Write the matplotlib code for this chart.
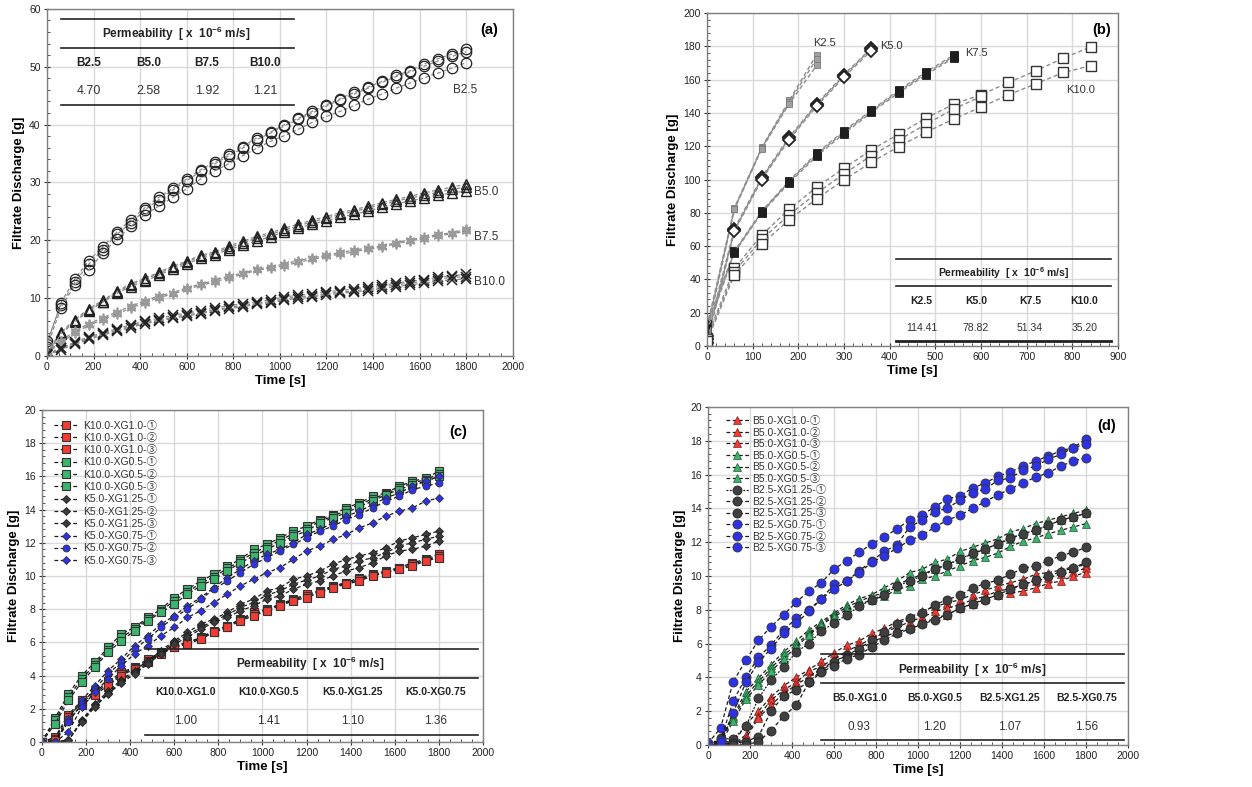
import numpy as np
import matplotlib.pyplot as plt
from matplotlib.ticker import MultipleLocator

plt.rcParams['font.family'] = ['Liberation Sans', 'Noto Sans CJK JP']
plt.rcParams['mathtext.fontset'] = 'custom'
plt.rcParams['mathtext.rm'] = 'Liberation Sans'
plt.rcParams['mathtext.bf'] = 'Liberation Sans:bold'

# ---------------- data ----------------
# sampling times (s)
time_long = [0, 60, 120, 180, 240, 300, 360, 420, 480, 540, 600, 660, 720, 780, 840,
             900, 960, 1020, 1080, 1140, 1200, 1260, 1320, 1380, 1440, 1500, 1560,
             1620, 1680, 1740, 1800]
time_short = [0, 60, 120, 180, 240, 300, 360, 420, 480, 540, 600, 660, 720, 780, 840]

# (a) binder series
b25 = [
    [2.0, 9.2, 13.3, 16.5, 18.9, 21.4, 23.5, 25.6, 27.4, 29.0, 30.6, 32.2, 33.5, 34.9, 36.2, 37.7,
     38.7, 40.0, 41.1, 42.3, 43.4, 44.5, 45.6, 46.5, 47.5, 48.5, 49.3, 50.5, 51.4, 52.2, 53.0],
    [2.5, 8.8, 12.8, 15.9, 18.4, 21.0, 23.0, 25.2, 27.0, 28.7, 30.3, 31.9, 33.2, 34.6, 35.9, 37.4,
     38.5, 39.8, 40.9, 42.0, 43.2, 44.3, 45.3, 46.3, 47.3, 48.3, 49.1, 50.1, 51.0, 51.8, 52.6],
    [1.5, 8.3, 12.3, 14.9, 17.8, 20.2, 22.4, 24.4, 25.9, 27.4, 28.9, 30.6, 32.0, 33.2, 34.6, 35.9,
     37.1, 38.1, 39.2, 40.4, 41.4, 42.3, 43.3, 44.4, 45.3, 46.3, 47.2, 48.1, 48.9, 49.8, 50.7],
]
b50 = [
    [0.8, 4.1, 6.3, 8.2, 9.6, 11.2, 12.5, 13.4, 14.5, 15.5, 16.4, 17.4, 18.0, 19.0, 19.8, 20.7,
     21.3, 22.1, 22.8, 23.5, 24.1, 24.8, 25.3, 25.9, 26.5, 27.1, 27.6, 28.2, 28.7, 29.2, 29.7],
    [0.5, 3.9, 6.1, 8.0, 9.4, 11.0, 12.3, 13.2, 14.3, 15.3, 16.2, 17.2, 17.8, 18.7, 19.5, 20.4,
     21.0, 21.8, 22.5, 23.2, 23.8, 24.5, 25.0, 25.6, 26.2, 26.8, 27.3, 27.8, 28.3, 28.8, 29.2],
    [0.3, 3.8, 5.9, 7.8, 9.3, 10.8, 12.0, 12.9, 14.0, 15.0, 15.9, 16.9, 17.5, 18.4, 19.1, 19.9,
     20.6, 21.5, 22.1, 22.8, 23.4, 24.0, 24.5, 25.1, 25.7, 26.3, 26.8, 27.3, 27.8, 28.2, 28.5],
]
b75 = [
    [0.6, 2.6, 4.3, 5.6, 6.6, 7.6, 8.6, 9.5, 10.4, 10.9, 11.8, 12.4, 13.1, 13.8, 14.3, 15.0,
     15.4, 15.9, 16.5, 17.0, 17.4, 17.9, 18.3, 18.7, 19.0, 19.6, 20.1, 20.5, 21.0, 21.3, 21.9],
    [0.4, 2.3, 4.0, 5.3, 6.3, 7.2, 8.3, 9.2, 10.1, 10.7, 11.5, 12.2, 12.8, 13.5, 14.1, 14.8,
     15.2, 15.6, 16.2, 16.7, 17.2, 17.6, 18.0, 18.5, 18.8, 19.4, 19.9, 20.3, 20.8, 21.1, 21.6],
]
b100 = [
    [0.3, 1.4, 2.4, 3.3, 4.0, 4.7, 5.4, 6.0, 6.5, 7.0, 7.4, 7.8, 8.3, 8.7, 9.0, 9.4,
     9.7, 10.2, 10.5, 10.7, 11.1, 11.3, 11.6, 11.9, 12.2, 12.6, 12.9, 13.2, 13.6, 13.9, 14.1],
    [0.2, 1.3, 2.2, 3.1, 3.8, 4.5, 5.1, 5.8, 6.2, 6.7, 7.1, 7.5, 8.0, 8.4, 8.7, 9.1,
     9.4, 9.9, 10.2, 10.4, 10.8, 11.0, 11.3, 11.5, 11.9, 12.3, 12.6, 12.9, 13.3, 13.6, 13.7],
    [0.1, 1.1, 2.0, 2.9, 3.6, 4.3, 4.9, 5.6, 6.0, 6.5, 6.9, 7.3, 7.8, 8.2, 8.5, 8.9,
     9.2, 9.7, 9.9, 10.2, 10.6, 10.8, 11.1, 11.3, 11.6, 12.0, 12.3, 12.6, 12.9, 13.2, 13.3],
]
perm_a_names = ['B2.5', 'B5.0', 'B7.5', 'B10.0']
perm_a_values = ['4.70', '2.58', '1.92', '1.21']

# (b) series
k25 = [[12, 83.0, 119.5, 147.5, 175.0],
       [10, 82.5, 119.0, 146.5, 172.5],
       [8, 82.0, 118.5, 145.5, 168.5]]
k50 = [[6, 70.5, 101.5, 125.5, 145.5, 163.0, 179.0],
       [4, 69.5, 100.8, 124.8, 144.9, 162.3, 178.6],
       [2, 68.8, 100.0, 124.0, 144.0, 161.5, 177.5]]
k75 = [[13, 57.0, 81.0, 99.3, 115.8, 129.3, 141.6, 153.8, 164.6, 174.8],
       [11, 56.5, 80.5, 98.8, 115.0, 128.5, 141.0, 153.0, 163.8, 174.0],
       [9, 56.0, 80.0, 98.0, 114.0, 127.6, 140.3, 152.2, 163.0, 173.0]]
k100 = [[5, 46.7, 66.7, 82.2, 95.4, 106.8, 117.8, 127.3, 136.9, 145.3, 150.9, 158.3, 165.3, 172.9, 179.6],
        [4, 44.7, 64.1, 78.8, 91.8, 103.4, 114.4, 123.8, 133.3, 142.3, 149.9],
        [3, 42.7, 61.3, 75.8, 88.4, 99.8, 110.4, 119.8, 128.5, 136.3, 143.5, 150.9, 157.5, 164.3, 168.3]]
perm_b_names = ['K2.5', 'K5.0', 'K7.5', 'K10.0']
perm_b_values = ['114.41', '78.82', '51.34', '35.20']

# (c) series
c_k10_xg10 = [
    [0, 0.3, 1.65, 2.5, 3.05, 3.6, 4.2, 4.5, 5.0, 5.4, 5.8, 6.0, 6.3, 6.7, 7.0, 7.4,
     7.8, 8.0, 8.3, 8.6, 8.9, 9.1, 9.4, 9.6, 9.9, 10.1, 10.3, 10.5, 10.8, 11.0, 11.3],
    [0, 0.2, 1.5, 2.4, 2.95, 3.5, 4.1, 4.45, 4.9, 5.35, 5.75, 5.95, 6.25, 6.65, 6.95, 7.35,
     7.7, 7.95, 8.25, 8.55, 8.8, 9.05, 9.35, 9.55, 9.8, 10.05, 10.25, 10.45, 10.7, 10.95, 11.2],
    [0, 0.1, 1.3, 2.2, 2.85, 3.4, 4.0, 4.4, 4.8, 5.3, 5.7, 5.9, 6.2, 6.6, 6.9, 7.3,
     7.6, 7.9, 8.2, 8.5, 8.7, 9.0, 9.3, 9.5, 9.7, 10.0, 10.2, 10.4, 10.6, 10.9, 11.1],
]
c_k10_xg05 = [
    [0, 1.45, 2.9, 4.0, 4.8, 5.7, 6.5, 6.9, 7.5, 8.0, 8.7, 9.2, 9.7, 10.1, 10.6, 11.0,
     11.6, 11.9, 12.3, 12.7, 13.0, 13.4, 13.7, 14.1, 14.4, 14.8, 15.0, 15.4, 15.7, 15.9, 16.3],
    [0, 1.3, 2.7, 3.8, 4.65, 5.55, 6.3, 6.8, 7.4, 7.9, 8.5, 9.05, 9.55, 9.95, 10.45, 10.9,
     11.4, 11.75, 12.15, 12.55, 12.85, 13.3, 13.6, 13.95, 14.3, 14.65, 14.95, 15.3, 15.6, 15.8, 16.15],
    [0, 1.1, 2.5, 3.6, 4.5, 5.4, 6.1, 6.7, 7.3, 7.8, 8.3, 8.9, 9.4, 9.8, 10.3, 10.8,
     11.2, 11.6, 12.0, 12.4, 12.7, 13.2, 13.5, 13.8, 14.2, 14.5, 14.9, 15.2, 15.5, 15.7, 16.0],
]
c_k5_xg125 = [
    [0, 0.0, 0.1, 1.3, 2.3, 3.05, 3.75, 4.3, 4.9, 5.5, 6.1, 6.6, 7.1, 7.4, 7.8, 8.3,
     8.6, 9.1, 9.3, 9.8, 10.0, 10.3, 10.7, 11.0, 11.2, 11.4, 11.7, 12.1, 12.3, 12.5, 12.7],
    [0, 0.0, 0.1, 1.25, 2.2, 2.95, 3.65, 4.2, 4.8, 5.4, 6.0, 6.45, 6.9, 7.3, 7.65, 8.1,
     8.4, 8.85, 9.1, 9.5, 9.75, 10.0, 10.4, 10.6, 10.9, 11.1, 11.4, 11.8, 12.0, 12.2, 12.4],
    [0, 0.0, 0.1, 1.2, 2.1, 2.9, 3.55, 4.1, 4.7, 5.3, 5.9, 6.3, 6.8, 7.2, 7.5, 7.9,
     8.2, 8.6, 8.8, 9.2, 9.5, 9.7, 10.0, 10.3, 10.5, 10.8, 11.2, 11.5, 11.6, 11.8, 12.1],
]
c_k5_xg075 = [
    [0, 0.0, 1.4, 2.5, 3.4, 4.3, 5.0, 5.8, 6.4, 7.1, 7.6, 8.2, 8.7, 9.3, 9.9, 10.4,
     10.9, 11.3, 11.6, 12.0, 12.5, 12.8, 13.2, 13.6, 13.9, 14.3, 14.7, 15.0, 15.4, 15.7, 16.0],
    [0, 0.0, 1.2, 2.3, 3.2, 4.1, 4.8, 5.6, 6.2, 6.9, 7.5, 8.0, 8.6, 9.2, 9.7, 10.2,
     10.7, 11.1, 11.5, 11.9, 12.3, 12.7, 13.0, 13.4, 13.7, 14.1, 14.5, 14.8, 15.2, 15.4, 15.6],
    [0, 0.0, 0.6, 2.1, 3.0, 3.8, 4.6, 5.3, 5.8, 6.4, 6.9, 7.5, 7.9, 8.4, 8.9, 9.4,
     9.8, 10.2, 10.5, 11.0, 11.5, 11.8, 12.2, 12.5, 12.9, 13.2, 13.6, 13.9, 14.1, 14.5, 14.7],
]
perm_c_names = ['K10.0-XG1.0', 'K10.0-XG0.5', 'K5.0-XG1.25', 'K5.0-XG0.75']
perm_c_values = ['1.00', '1.41', '1.10', '1.36']

# (d) series
d_b5_xg10 = [
    [0, 0.3, 0.1, 1.2, 2.0, 2.85, 3.5, 4.0, 4.45, 4.95, 5.45, 5.9, 6.15, 6.6, 6.9, 7.3,
     7.55, 7.9, 8.2, 8.4, 8.6, 8.9, 9.15, 9.4, 9.6, 9.8, 10.1, 10.2, 10.35, 10.55, 10.65],
    [0, 0.2, 0.0, 0.6, 1.7, 2.65, 3.25, 3.7, 4.35, 4.65, 5.1, 5.55, 5.9, 6.3, 6.7, 6.95,
     7.3, 7.55, 7.9, 8.1, 8.3, 8.6, 8.8, 9.1, 9.25, 9.5, 9.7, 9.9, 10.1, 10.25, 10.45],
    [0, 0.1, 0.0, 0.4, 1.6, 2.35, 3.05, 3.55, 4.05, 4.5, 4.95, 5.3, 5.6, 6.1, 6.4, 6.7,
     6.9, 7.2, 7.5, 7.7, 8.1, 8.35, 8.65, 8.85, 9.0, 9.1, 9.3, 9.55, 9.7, 10.0, 10.2],
]
d_b5_xg05 = [
    [0, 0.3, 1.7, 3.15, 3.95, 4.75, 5.5, 6.15, 6.8, 7.3, 7.8, 8.3, 8.65, 8.9, 9.3, 9.7,
     10.2, 10.4, 10.8, 11.0, 11.45, 11.7, 11.95, 12.2, 12.6, 12.8, 13.1, 13.3, 13.5, 13.7, 13.9],
    [0, 0.2, 1.6, 2.9, 3.75, 4.55, 5.3, 5.95, 6.6, 7.2, 7.7, 8.15, 8.5, 8.8, 9.0, 9.5,
     9.8, 10.1, 10.4, 10.7, 11.0, 11.3, 11.6, 11.9, 12.2, 12.5, 12.7, 13.0, 13.3, 13.5, 13.7],
    [0, 0.1, 1.4, 2.7, 3.55, 4.35, 5.1, 5.8, 6.5, 7.1, 7.6, 8.0, 8.3, 8.6, 8.8, 9.2,
     9.4, 9.8, 10.0, 10.3, 10.6, 10.9, 11.1, 11.35, 11.75, 12.05, 12.25, 12.5, 12.7, 12.9, 13.1],
]
d_b25_xg125 = [
    [0, 0.4, 0.35, 1.1, 2.75, 3.85, 4.6, 5.5, 6.0, 6.75, 7.2, 7.7, 8.2, 8.6, 8.9, 9.4,
     9.7, 10.0, 10.4, 10.65, 11.0, 11.35, 11.6, 11.9, 12.25, 12.5, 12.7, 13.0, 13.3, 13.5, 13.7],
    [0, 0.1, 0.1, 0.2, 0.5, 2.0, 2.9, 3.25, 3.75, 4.4, 4.9, 5.3, 5.7, 6.2, 6.7, 7.15,
     7.5, 7.8, 8.3, 8.6, 8.85, 9.3, 9.55, 9.75, 10.1, 10.45, 10.6, 10.9, 11.2, 11.4, 11.7],
    [0, 0.1, 0.0, 0.0, 0.2, 0.85, 1.7, 2.35, 3.7, 4.3, 4.7, 5.1, 5.35, 5.8, 6.2, 6.6,
     6.85, 7.15, 7.4, 7.7, 8.1, 8.35, 8.6, 8.9, 9.2, 9.5, 9.75, 10.0, 10.25, 10.5, 10.8],
]
d_b25_xg075 = [
    [0.1, 1.0, 3.75, 5.0, 6.2, 7.0, 7.7, 8.45, 9.1, 9.6, 10.4, 10.9, 11.4, 11.9, 12.3, 12.8,
     13.3, 13.6, 14.1, 14.55, 14.75, 15.2, 15.5, 15.9, 16.15, 16.5, 16.8, 17.1, 17.4, 17.6, 18.1],
    [0.0, 0.3, 2.6, 4.0, 5.2, 5.9, 6.8, 7.5, 8.0, 8.65, 9.5, 9.7, 10.3, 10.9, 11.45, 11.85,
     12.9, 13.3, 13.8, 14.0, 14.5, 14.9, 15.15, 15.65, 15.8, 16.25, 16.5, 16.9, 17.2, 17.6, 17.8],
    [0.0, 0.2, 1.9, 3.7, 4.9, 5.7, 6.6, 7.2, 7.9, 8.65, 9.2, 9.7, 10.2, 10.8, 11.2, 11.65,
     12.1, 12.4, 12.9, 13.3, 13.6, 14.0, 14.4, 14.8, 15.15, 15.5, 15.85, 16.1, 16.5, 16.8, 17.0],
]
perm_d_names = ['B5.0-XG1.0', 'B5.0-XG0.5', 'B2.5-XG1.25', 'B2.5-XG0.75']
perm_d_values = ['0.93', '1.20', '1.07', '1.56']

rep_marks = ['\u2460', '\u2461', '\u2462']

RED = '#f03c32'
GREEN = '#3cb46e'
DGRAY = '#3c3c3c'
BLUE = '#2d32e6'


def style_axes(ax, xmax, xmaj, xmin, ymax, ymaj, ymin):
    ax.set_xlim(0, xmax)
    ax.set_ylim(0, ymax)
    ax.xaxis.set_major_locator(MultipleLocator(xmaj))
    ax.xaxis.set_minor_locator(MultipleLocator(xmin))
    ax.yaxis.set_major_locator(MultipleLocator(ymaj))
    ax.yaxis.set_minor_locator(MultipleLocator(ymin))
    ax.grid(True, which='major', color='#d9d9d9', linewidth=1.0)
    ax.set_axisbelow(True)
    for s in ax.spines.values():
        s.set_color('#808080')
        s.set_linewidth(1.0)
    ax.tick_params(which='major', direction='inout', length=5, width=0.8, labelsize=7.5,
                   color='#333333', labelcolor='#222222', pad=2)
    ax.tick_params(which='minor', direction='in', length=2.5, width=0.6, color='#333333')
    ax.set_xlabel('Time [s]', fontweight='bold', fontsize=9.5, labelpad=2)
    ax.set_ylabel('Filtrate Discharge [g]', fontweight='bold', fontsize=9.5, labelpad=3)


def perm_table(ax, x0, x1, ys, cols, title_x, names, values, fs_head, fs_val, fs_title, lw_bottom=1.2):
    y_top, y_title, y_line, y_head, y_val, y_bot = ys
    tr = ax.transAxes
    ax.plot([x0, x1], [y_top, y_top], color='#222222', lw=1.2, transform=tr, clip_on=False)
    ax.plot([x0, x1], [y_line, y_line], color='#222222', lw=1.2, transform=tr, clip_on=False)
    ax.plot([x0, x1], [y_bot, y_bot], color='#222222', lw=lw_bottom, transform=tr, clip_on=False)
    ax.text(title_x, y_title, r'Permeability  [ x  10$^{\mathbf{-6}}$ m/s]', transform=tr,
            ha='center', va='center', fontsize=fs_title, fontweight='bold', color='#222222')
    for cx, n, v in zip(cols, names, values):
        ax.text(cx, y_head, n, transform=tr, ha='center', va='center', fontsize=fs_head,
                fontweight='bold', color='#222222')
        ax.text(cx, y_val, v, transform=tr, ha='center', va='center', fontsize=fs_val,
                color='#333333')


fig = plt.figure(figsize=(12.52, 7.87), dpi=100)
ax_a = fig.add_axes([0.0375, 0.5477, 0.372, 0.441])
ax_b = fig.add_axes([0.5647, 0.5604, 0.3283, 0.423])
ax_c = fig.add_axes([0.0335, 0.0572, 0.3522, 0.4219])
ax_d = fig.add_axes([0.5655, 0.0534, 0.3355, 0.4295])

# ---------------- (a) ----------------
line_kw = dict(color='#8c8c8c', linestyle=(0, (3, 2)), linewidth=0.9)
for s in b25:
    ax_a.plot(time_long, s, marker='o', markersize=7.5, markerfacecolor='none',
              markeredgecolor='#222222', markeredgewidth=0.9, **line_kw)
for s in b50:
    ax_a.plot(time_long, s, marker='^', markersize=7, markerfacecolor='none',
              markeredgecolor='#222222', markeredgewidth=1.0, **line_kw)
for s in b75:
    ax_a.plot(time_long, s, marker=(6, 2, 0), markersize=7, markeredgecolor='#9a9a9a',
              markeredgewidth=1.2, **line_kw)
for s in b100:
    ax_a.plot(time_long, s, marker='x', markersize=6.5, markeredgecolor='#222222',
              markeredgewidth=1.1, **line_kw)
style_axes(ax_a, 2000, 200, 50, 60, 10, 2)
ax_a.text(1745, b25[2][-1] - 4.8, 'B2.5', fontsize=8.5, color='#333333', va='center')
ax_a.text(1835, b50[1][-1] - 0.9, 'B5.0', fontsize=8.5, color='#333333', va='center')
ax_a.text(1835, b75[1][-1] - 1.1, 'B7.5', fontsize=8.5, color='#333333', va='center')
ax_a.text(1835, b100[1][-1] - 1.0, 'B10.0', fontsize=8.5, color='#333333', va='center')
ax_a.text(0.95, 0.94, '(a)', transform=ax_a.transAxes, fontsize=10.5, fontweight='bold',
          ha='center', va='center')
perm_table(ax_a, 0.0295, 0.5315, (0.972, 0.928, 0.888, 0.845, 0.763, 0.722),
           [0.09, 0.218, 0.3435, 0.4685], 0.2775, perm_a_names, perm_a_values, 8.5, 9, 8.5)

# ---------------- (b) ----------------
line_b = dict(color='#8c8c8c', linestyle=(0, (3, 2)), linewidth=1.0)
for s in k25:
    ax_b.plot(time_short[:len(s)], s, marker='s', markersize=5, markerfacecolor='#a0a0a0',
              markeredgecolor='#7a7a7a', markeredgewidth=0.6, **line_b)
for s in k50:
    ax_b.plot(time_short[:len(s)], s, marker='D', markersize=6, markerfacecolor='white',
              markeredgecolor='#222222', markeredgewidth=1.3, **line_b)
for s in k75:
    ax_b.plot(time_short[:len(s)], s, marker='s', markersize=6, markerfacecolor='#1e1e1e',
              markeredgecolor='#1e1e1e', markeredgewidth=0.6, **line_b)
for s in k100:
    ax_b.plot(time_short[:len(s)], s, marker='s', markersize=6.8, markerfacecolor='white',
              markeredgecolor='#333333', markeredgewidth=1.0, **line_b)
style_axes(ax_b, 900, 100, 20, 200, 20, 4)
ax_b.text(233, 182, 'K2.5', fontsize=8, color='#333333', va='center')
ax_b.text(379, 180.5, 'K5.0', fontsize=8, color='#333333', va='center')
ax_b.text(565, 176, 'K7.5', fontsize=8, color='#333333', va='center')
ax_b.text(787, 154, 'K10.0', fontsize=8, color='#333333', va='center')
ax_b.text(0.96, 0.95, '(b)', transform=ax_b.transAxes, fontsize=10.5, fontweight='bold',
          ha='center', va='center')
perm_table(ax_b, 0.46, 0.982, (0.2605, 0.2185, 0.1805, 0.1365, 0.055, 0.016),
           [0.522, 0.654, 0.786, 0.918], 0.721, perm_b_names, perm_b_values, 7.5, 7.5, 7.5,
           lw_bottom=2.0)

# ---------------- (c) ----------------
dash_c = dict(color='#1a1a1a', linestyle=(0, (3, 2)), linewidth=0.9)
for i, s in enumerate(c_k10_xg10):
    ax_c.plot(time_long, s, marker='s', markersize=6, markerfacecolor=RED,
              markeredgecolor='#333333', markeredgewidth=0.8,
              label='K10.0-XG1.0-' + rep_marks[i], **dash_c)
for i, s in enumerate(c_k10_xg05):
    ax_c.plot(time_long, s, marker='s', markersize=6, markerfacecolor=GREEN,
              markeredgecolor='#333333', markeredgewidth=0.8,
              label='K10.0-XG0.5-' + rep_marks[i], **dash_c)
for i, s in enumerate(c_k5_xg125):
    ax_c.plot(time_long, s, marker='D', markersize=4.5, markerfacecolor=DGRAY,
              markeredgecolor='#222222', markeredgewidth=0.6,
              label='K5.0-XG1.25-' + rep_marks[i], **dash_c)
for i, s in enumerate(c_k5_xg075):
    mk = 'o' if i == 1 else 'D'
    ax_c.plot(time_long, s, marker=mk, markersize=5 if i == 1 else 4.5, markerfacecolor=BLUE,
              markeredgecolor='#333333', markeredgewidth=0.6,
              label='K5.0-XG0.75-' + rep_marks[i], **dash_c)
style_axes(ax_c, 2000, 200, 50, 20, 2, 0.4)
ax_c.text(0.945, 0.935, '(c)', transform=ax_c.transAxes, fontsize=10.5, fontweight='bold',
          ha='center', va='center')
ax_c.legend(loc='upper left', bbox_to_anchor=(0.01, 0.99), frameon=False, fontsize=7.5,
            labelspacing=0.22, handlelength=2.4, handletextpad=0.4, borderpad=0.2,
            labelcolor='#333333')
perm_table(ax_c, 0.2335, 0.9885, (0.279, 0.236, 0.193, 0.15, 0.0625, 0.02),
           [0.325, 0.513, 0.704, 0.8925], 0.6075, perm_c_names, perm_c_values, 7.5, 8.5, 8.5)

# ---------------- (d) ----------------
for i, s in enumerate(d_b5_xg10):
    ax_d.plot(time_long, s, marker='^', markersize=6, markerfacecolor=RED,
              markeredgecolor='#7a2020', markeredgewidth=0.5,
              label='B5.0-XG1.0-' + rep_marks[i], **dash_c)
for i, s in enumerate(d_b5_xg05):
    ax_d.plot(time_long, s, marker='^', markersize=6, markerfacecolor=GREEN,
              markeredgecolor='#1f5a30', markeredgewidth=0.5,
              label='B5.0-XG0.5-' + rep_marks[i], **dash_c)
for i, s in enumerate(d_b25_xg125):
    kw = dict(dash_c)
    if i == 0:
        kw['linestyle'] = (0, (1.5, 1.2))
    ax_d.plot(time_long, s, marker='o', markersize=6.5, markerfacecolor='#404040',
              markeredgecolor='#222222', markeredgewidth=0.6,
              label='B2.5-XG1.25-' + rep_marks[i], **kw)
for i, s in enumerate(d_b25_xg075):
    ax_d.plot(time_long, s, marker='o', markersize=6.5, markerfacecolor=BLUE,
              markeredgecolor='#333333', markeredgewidth=0.6,
              label='B2.5-XG0.75-' + rep_marks[i], **dash_c)
style_axes(ax_d, 2000, 200, 50, 20, 2, 0.4)
ax_d.text(0.95, 0.945, '(d)', transform=ax_d.transAxes, fontsize=10.5, fontweight='bold',
          ha='center', va='center')
ax_d.legend(loc='upper left', bbox_to_anchor=(0.025, 0.995), frameon=False, fontsize=7.5,
            labelspacing=0.15, handlelength=2.2, handletextpad=0.3, borderpad=0.2,
            labelcolor='#333333')
perm_table(ax_d, 0.2695, 0.9895, (0.2685, 0.222, 0.1825, 0.138, 0.0545, 0.015),
           [0.3605, 0.539, 0.7185, 0.901], 0.63, perm_d_names, perm_d_values, 7.5, 8.5, 8.5)

fig.savefig('out.png', dpi=100)
